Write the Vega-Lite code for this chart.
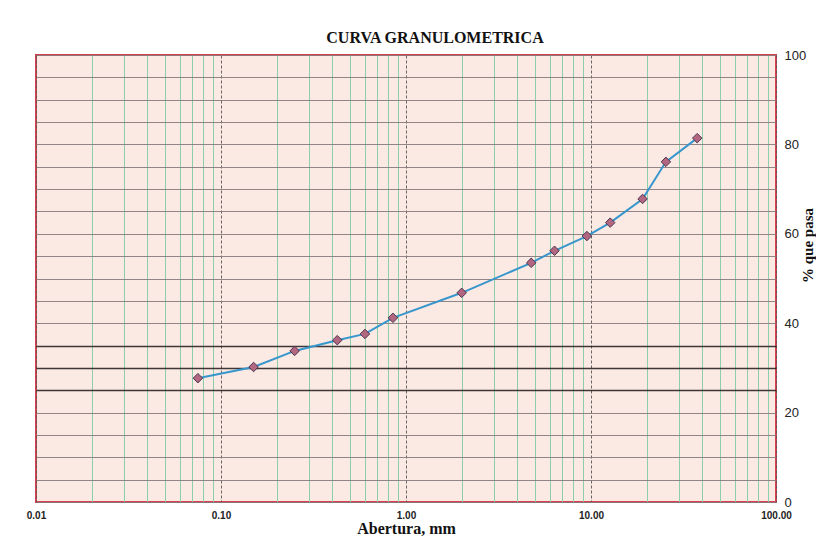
{
  "$schema": "https://vega.github.io/schema/vega-lite/v6.json",
  "width": 740,
  "height": 447,
  "autosize": "none",
  "padding": {"left": 36, "top": 55, "right": 40, "bottom": 44},
  "background": "white",
  "title": {
    "text": "CURVA GRANULOMETRICA",
    "font": "Liberation Serif",
    "fontSize": 16,
    "fontWeight": "bold",
    "color": "#111",
    "anchor": "middle",
    "dx": 29,
    "offset": 3
  },
  "config": {
    "view": {"fill": "#fbe9e4", "stroke": "#d7404f", "strokeWidth": 2}
  },
  "data": {
    "values": [
      {"abertura": 0.075, "pasa": 27.7},
      {"abertura": 0.15, "pasa": 30.2},
      {"abertura": 0.25, "pasa": 33.8},
      {"abertura": 0.425, "pasa": 36.2},
      {"abertura": 0.6, "pasa": 37.6},
      {"abertura": 0.85, "pasa": 41.2},
      {"abertura": 2.0, "pasa": 46.8},
      {"abertura": 4.75, "pasa": 53.5},
      {"abertura": 6.35, "pasa": 56.2},
      {"abertura": 9.5, "pasa": 59.5},
      {"abertura": 12.7, "pasa": 62.5},
      {"abertura": 19.0, "pasa": 67.8},
      {"abertura": 25.4, "pasa": 76.1},
      {"abertura": 37.5, "pasa": 81.4}
    ]
  },
  "encoding": {
    "x": {
      "field": "abertura",
      "type": "quantitative",
      "scale": {"type": "log", "domain": [0.01, 100], "nice": false},
      "axis": {
        "title": "Abertura, mm",
        "titleFont": "Liberation Serif",
        "titleFontSize": 16,
        "titleFontWeight": "bold",
        "titleColor": "#111",
        "titlePadding": 0,
        "values": [0.01, 0.02, 0.03, 0.04, 0.05, 0.06, 0.07, 0.08, 0.09, 0.1, 0.2, 0.3, 0.4, 0.5, 0.6, 0.7, 0.8, 0.9, 1, 2, 3, 4, 5, 6, 7, 8, 9, 10, 20, 30, 40, 50, 60, 70, 80, 90, 100],
        "labelExpr": "indexof([0.01, 0.1, 1, 10, 100], datum.value) >= 0 ? format(datum.value, '.2f') : ''",
        "labelFont": "Liberation Sans Narrow, Liberation Sans",
        "labelFontSize": 10,
        "labelFontWeight": "bold",
        "labelColor": "#222",
        "labelPadding": 8,
        "labelFlush": false,
        "labelOverlap": false,
        "domain": false,
        "ticks": false,
        "grid": true,
        "gridColor": {"condition": {"test": "indexof([0.01, 0.1, 1, 10, 100], datum.value) >= 0", "value": "#5a5555"}, "value": "#7fcca6"},
        "gridDash": {"condition": {"test": "indexof([0.01, 0.1, 1, 10, 100], datum.value) >= 0", "value": [3, 2]}, "value": []},
        "gridWidth": 1,
        "gridOpacity": 0.9
      }
    },
    "y": {
      "field": "pasa",
      "type": "quantitative",
      "scale": {"domain": [0, 100], "nice": false},
      "axis": {
        "orient": "right",
        "title": "% que pasa",
        "titleFont": "Liberation Serif",
        "titleFontSize": 15,
        "titleFontWeight": "bold",
        "titleColor": "#111",
        "titleAngle": -90,
        "titleX": 39,
        "titleY": 190,
        "titleAlign": "center",
        "titleBaseline": "bottom",
        "values": [0, 5, 10, 15, 20, 25, 30, 35, 40, 45, 50, 55, 60, 65, 70, 75, 80, 85, 90, 95, 100],
        "labelExpr": "datum.value % 20 === 0 ? datum.label : ''",
        "labelFont": "Liberation Sans",
        "labelFontSize": 13,
        "labelColor": "#222",
        "labelPadding": 8,
        "labelFlush": false,
        "labelOverlap": false,
        "domain": false,
        "ticks": false,
        "grid": true,
        "gridColor": {"condition": {"test": "datum.value >= 25 && datum.value <= 35", "value": "#2a2424"}, "value": "#857a7a"},
        "gridWidth": {"condition": {"test": "datum.value >= 25 && datum.value <= 35", "value": 1.6}, "value": 1},
        "gridOpacity": 0.9
      }
    }
  },
  "layer": [
    {
      "mark": {"type": "line", "color": "#3796cc", "strokeWidth": 2}
    },
    {
      "mark": {"type": "point", "shape": "diamond", "filled": true, "size": 90, "fill": "#b3667f", "stroke": "#4a3550", "strokeWidth": 1, "opacity": 1}
    }
  ]
}
